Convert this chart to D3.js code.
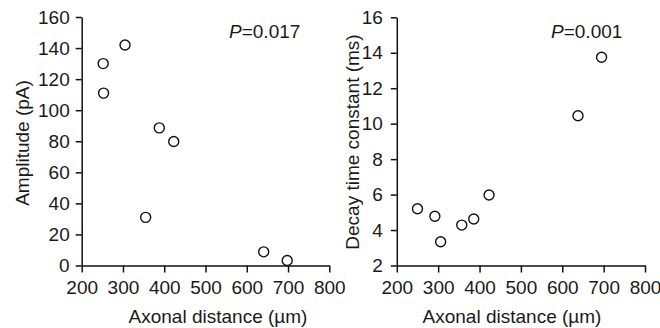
<!DOCTYPE html>
<html>
<head>
<meta charset="utf-8">
<script src="https://cdn.jsdelivr.net/npm/d3@7"></script>
<style>
  body { margin: 0; background: #fff; }
  svg { display: block; }
  text { font-family: "Liberation Sans", Arial, sans-serif; fill: #1a1a1a; }
</style>
</head>
<body>
<div id="chart"></div>
<script>
// ========== DATA ==========
const xTicks = [200, 300, 400, 500, 600, 700, 800];

// left panel: amplitude vs axonal distance
const ampDistance = [252, 253, 305, 355, 388, 423, 641, 698];
const ampValues   = [130, 111, 142, 31, 88.6, 79.8, 8.8, 3.2];
const ampTicks    = [0, 20, 40, 60, 80, 100, 120, 140, 160];

// right panel: decay time constant vs axonal distance
const decayDistance = [250, 292, 306, 357, 386, 423, 638, 695];
const decayValues   = [5.2, 4.78, 3.34, 4.28, 4.62, 5.98, 10.45, 13.75];
const decayTicks    = [2, 4, 6, 8, 10, 12, 14, 16];

const pLabels = ["0.017", "0.001"];

// ========== DRAWING ==========
const svg = d3.select("#chart").append("svg")
  .attr("width", 660)
  .attr("height", 328);

function drawPanel(opts) {
  const x = d3.scaleLinear().domain([200, 800]).range([opts.left, opts.right]);
  const y = d3.scaleLinear().domain(opts.yDomain).range([opts.bottom, opts.top]);

  const g = svg.append("g");

  const xAxis = g.append("g")
    .attr("transform", `translate(0, ${opts.bottom})`)
    .call(d3.axisBottom(x).tickValues(xTicks).tickSize(7).tickPadding(8).tickSizeOuter(0));

  const yAxis = g.append("g")
    .attr("transform", `translate(${opts.left}, 0)`)
    .call(d3.axisLeft(y).tickValues(opts.yTicks).tickSize(6).tickPadding(opts.yPad).tickSizeOuter(0));

  [xAxis, yAxis].forEach(a => {
    a.select(".domain").attr("stroke", "#111").attr("stroke-width", 1.5);
    a.selectAll(".tick line").attr("stroke", "#111").attr("stroke-width", 1.5);
    a.selectAll(".tick text")
      .style("font-family", "'Liberation Sans', Arial, sans-serif")
      .style("font-size", "19px")
      .attr("fill", "#1a1a1a");
  });

  // points
  g.selectAll("circle")
    .data(opts.xs.map((d, i) => [d, opts.ys[i]]))
    .join("circle")
    .attr("cx", d => x(d[0]))
    .attr("cy", d => y(d[1]))
    .attr("r", 5)
    .attr("fill", "#fff")
    .attr("stroke", "#111")
    .attr("stroke-width", 1.4);

  // axis titles
  g.append("text")
    .attr("x", opts.xTitleX)
    .attr("y", 323)
    .attr("text-anchor", "middle")
    .style("font-size", "19px")
    .text("Axonal distance (µm)");

  g.append("text")
    .attr("transform", `translate(${opts.yTitleX}, ${opts.yTitleY}) rotate(-90)`)
    .attr("text-anchor", "middle")
    .attr("dy", "0.35em")
    .style("font-size", "19px")
    .text(opts.yTitle);

  // P value
  const p = g.append("text")
    .attr("x", opts.pX)
    .attr("y", 37.5)
    .style("font-size", "19px");
  p.append("tspan").style("font-style", "italic").text("P");
  p.append("tspan").text("=" + opts.pLabel);
}

drawPanel({
  left: 81.7, right: 329.3, top: 17, bottom: 265.5,
  yDomain: [0, 160], yTicks: ampTicks, yPad: 6,
  xs: ampDistance, ys: ampValues,
  xTitleX: 218, yTitleX: 22, yTitleY: 143,
  yTitle: "Amplitude (pA)",
  pX: 229, pLabel: pLabels[0]
});

drawPanel({
  left: 396.8, right: 645, top: 17.3, bottom: 265.5,
  yDomain: [2, 16], yTicks: decayTicks, yPad: 8,
  xs: decayDistance, ys: decayValues,
  xTitleX: 512, yTitleX: 352, yTitleY: 142,
  yTitle: "Decay time constant (ms)",
  pX: 551, pLabel: pLabels[1]
});
</script>
</body>
</html>
